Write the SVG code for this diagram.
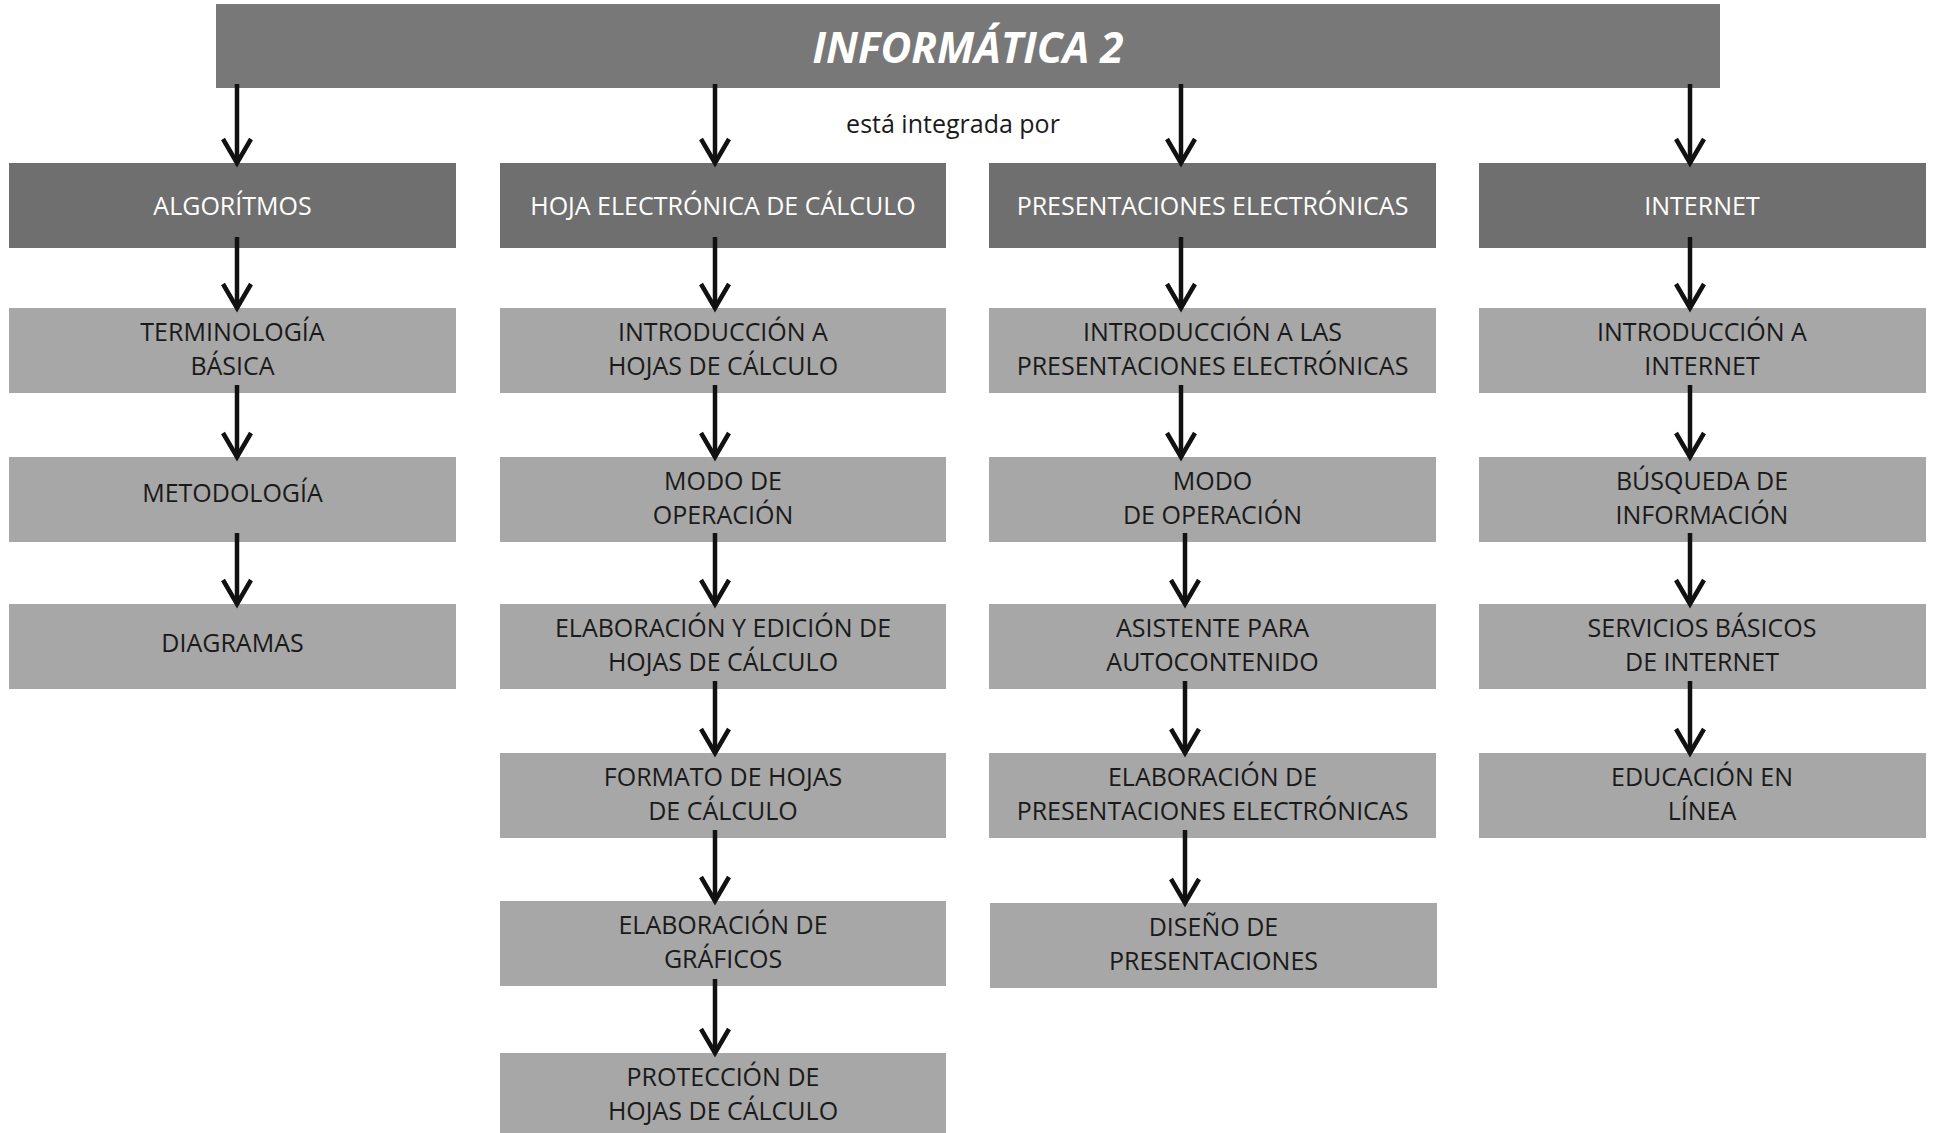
<svg xmlns="http://www.w3.org/2000/svg" width="1935" height="1133" viewBox="0 0 1935 1133">
<style>
.title{fill:#787878}
.hdr{fill:#6f6f6f}
.box{fill:#a7a7a7}
.tt{font-family:"Open Sans","Liberation Sans",sans-serif;font-size:43px;font-weight:bold;font-style:italic;fill:#ffffff;text-anchor:middle}
.ht{font-family:"Open Sans","Liberation Sans",sans-serif;font-size:25px;font-weight:500;fill:#ffffff;text-anchor:middle}
.bt{font-family:"Open Sans","Liberation Sans",sans-serif;font-size:25px;font-weight:500;fill:#1a1a1a;text-anchor:middle}
.lbl{font-family:"Open Sans","Liberation Sans",sans-serif;font-size:25px;font-weight:500;fill:#1a1a1a;text-anchor:middle}
.arr{fill:none;stroke:#111111;stroke-width:4.5;marker-end:url(#ah)}
</style>
<defs>
<marker id="ah" markerUnits="userSpaceOnUse" orient="auto" refX="0" refY="0" markerWidth="40" markerHeight="40" viewBox="-30 -20 40 40" overflow="visible">
<path d="M-24,-14 L0,0 L-24,14" fill="none" stroke="#111111" stroke-width="4.5" stroke-linejoin="miter"/>
</marker>
</defs>
<rect width="1935" height="1133" fill="#ffffff"/>

<g id="informatica2">
<rect class="title" x="216" y="4" width="1504" height="84"/>
<text class="tt" x="968" y="63" textLength="311" lengthAdjust="spacingAndGlyphs">INFORMÁTICA 2</text>
</g>

<g id="label-integrada">
<text class="lbl" x="953" y="133">está integrada por</text>
</g>

<!-- Column 1 -->
<g id="algoritmos"><rect class="hdr" x="9" y="163" width="447" height="85"/><text class="ht" x="232.5" y="215">ALGORÍTMOS</text></g>
<g id="terminologia"><rect class="box" x="9" y="308" width="447" height="85"/><text class="bt" x="232.5" y="341">TERMINOLOGÍA</text><text class="bt" x="232.5" y="375">BÁSICA</text></g>
<g id="metodologia"><rect class="box" x="9" y="457" width="447" height="85"/><text class="bt" x="232.5" y="502">METODOLOGÍA</text></g>
<g id="diagramas"><rect class="box" x="9" y="604" width="447" height="85"/><text class="bt" x="232.5" y="652">DIAGRAMAS</text></g>

<!-- Column 2 -->
<g id="hoja"><rect class="hdr" x="500" y="163" width="446" height="85"/><text class="ht" x="723" y="215">HOJA ELECTRÓNICA DE CÁLCULO</text></g>
<g id="intro-hojas"><rect class="box" x="500" y="308" width="446" height="85"/><text class="bt" x="723" y="341">INTRODUCCIÓN A</text><text class="bt" x="723" y="375">HOJAS DE CÁLCULO</text></g>
<g id="modo-hojas"><rect class="box" x="500" y="457" width="446" height="85"/><text class="bt" x="723" y="490">MODO DE</text><text class="bt" x="723" y="524">OPERACIÓN</text></g>
<g id="elab-edicion"><rect class="box" x="500" y="604" width="446" height="85"/><text class="bt" x="723" y="637">ELABORACIÓN Y EDICIÓN DE</text><text class="bt" x="723" y="671">HOJAS DE CÁLCULO</text></g>
<g id="formato"><rect class="box" x="500" y="753" width="446" height="85"/><text class="bt" x="723" y="786">FORMATO DE HOJAS</text><text class="bt" x="723" y="820">DE CÁLCULO</text></g>
<g id="graficos"><rect class="box" x="500" y="901" width="446" height="85"/><text class="bt" x="723" y="934">ELABORACIÓN DE</text><text class="bt" x="723" y="968">GRÁFICOS</text></g>
<g id="proteccion"><rect class="box" x="500" y="1053" width="446" height="85"/><text class="bt" x="723" y="1086">PROTECCIÓN DE</text><text class="bt" x="723" y="1120">HOJAS DE CÁLCULO</text></g>

<!-- Column 3 -->
<g id="presentaciones"><rect class="hdr" x="989" y="163" width="447" height="85"/><text class="ht" x="1212.5" y="215">PRESENTACIONES ELECTRÓNICAS</text></g>
<g id="intro-pres"><rect class="box" x="989" y="308" width="447" height="85"/><text class="bt" x="1212.5" y="341">INTRODUCCIÓN A LAS</text><text class="bt" x="1212.5" y="375">PRESENTACIONES ELECTRÓNICAS</text></g>
<g id="modo-pres"><rect class="box" x="989" y="457" width="447" height="85"/><text class="bt" x="1212.5" y="490">MODO</text><text class="bt" x="1212.5" y="524">DE OPERACIÓN</text></g>
<g id="asistente"><rect class="box" x="989" y="604" width="447" height="85"/><text class="bt" x="1212.5" y="637">ASISTENTE PARA</text><text class="bt" x="1212.5" y="671">AUTOCONTENIDO</text></g>
<g id="elab-pres"><rect class="box" x="989" y="753" width="447" height="85"/><text class="bt" x="1212.5" y="786">ELABORACIÓN DE</text><text class="bt" x="1212.5" y="820">PRESENTACIONES ELECTRÓNICAS</text></g>
<g id="diseno"><rect class="box" x="990" y="903" width="447" height="85"/><text class="bt" x="1213.5" y="936">DISEÑO DE</text><text class="bt" x="1213.5" y="970">PRESENTACIONES</text></g>

<!-- Column 4 -->
<g id="internet"><rect class="hdr" x="1479" y="163" width="447" height="85"/><text class="ht" x="1702" y="215">INTERNET</text></g>
<g id="intro-internet"><rect class="box" x="1479" y="308" width="447" height="85"/><text class="bt" x="1702" y="341">INTRODUCCIÓN A</text><text class="bt" x="1702" y="375">INTERNET</text></g>
<g id="busqueda"><rect class="box" x="1479" y="457" width="447" height="85"/><text class="bt" x="1702" y="490">BÚSQUEDA DE</text><text class="bt" x="1702" y="524">INFORMACIÓN</text></g>
<g id="servicios"><rect class="box" x="1479" y="604" width="447" height="85"/><text class="bt" x="1702" y="637">SERVICIOS BÁSICOS</text><text class="bt" x="1702" y="671">DE INTERNET</text></g>
<g id="educacion"><rect class="box" x="1479" y="753" width="447" height="85"/><text class="bt" x="1702" y="786">EDUCACIÓN EN</text><text class="bt" x="1702" y="820">LÍNEA</text></g>

<g id="connectors">
<path class="arr" d="M237,84 V163"/>
<path class="arr" d="M715,84 V163"/>
<path class="arr" d="M1181,84 V163"/>
<path class="arr" d="M1690,84 V163"/>

<path class="arr" d="M237,237 V308"/>
<path class="arr" d="M237,385 V457"/>
<path class="arr" d="M237,533 V604"/>

<path class="arr" d="M715,237 V308"/>
<path class="arr" d="M715,385 V457"/>
<path class="arr" d="M715,533 V604"/>
<path class="arr" d="M715,681 V753"/>
<path class="arr" d="M715,830 V901"/>
<path class="arr" d="M715,979 V1053"/>

<path class="arr" d="M1181,237 V308"/>
<path class="arr" d="M1181,385 V457"/>
<path class="arr" d="M1185,533 V604"/>
<path class="arr" d="M1185,681 V753"/>
<path class="arr" d="M1185,830 V903"/>

<path class="arr" d="M1690,237 V308"/>
<path class="arr" d="M1690,385 V457"/>
<path class="arr" d="M1690,533 V604"/>
<path class="arr" d="M1690,681 V753"/>
</g>
</svg>
